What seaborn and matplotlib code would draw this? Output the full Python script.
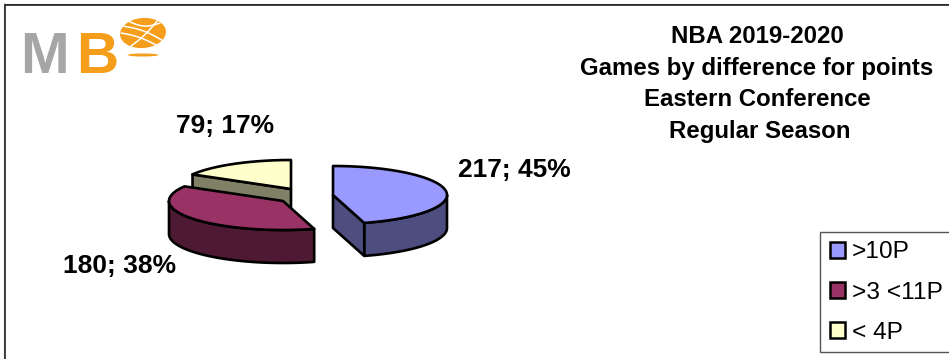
import matplotlib
matplotlib.use("Agg")
import matplotlib.pyplot as plt
import numpy as np
import seaborn as sns
from matplotlib.patches import Ellipse, Patch, Polygon, Rectangle

sns.set_theme(style="white")
plt.rcParams["font.family"] = ["Liberation Sans", "DejaVu Sans"]
plt.rcParams["text.color"] = "black"

# ---- chart data ----
categories = [">10P", ">3 <11P", "< 4P"]
games = [217, 180, 79]
pie_labels = ["217; 45%", "180; 38%", "79; 17%"]
title_lines = [
    "NBA 2019-2020",
    "Games by difference for points",
    "Eastern Conference",
    "Regular Season",
]
top_colors = ["#9999FF", "#993366", "#FFFFCC"]
side_colors = ["#4D4D80", "#4D1933", "#808066"]

# ---- layout in pixels, text positions are baselines ----
centers = [(333, 195), (283, 201), (291, 189)]
label_pos = [(514, 177), (120, 273), (225, 133)]
title_pos = [(757, 43), (757, 75), (757, 106), (760, 138)]
RX, RY, DEPTH = 114, 29, 33
LW = 1.9

fig = plt.figure(figsize=(9.49, 3.59), dpi=100)
ax = fig.add_axes([0, 0, 1, 1])
ax.set_xlim(0, 949)
ax.set_ylim(359, 0)
ax.axis("off")

# outer frame, only left and top are inside the picture
ax.plot([4.5, 4.5], [3, 359], color="#BBBBBB", lw=0.8, zorder=1)
ax.plot([4, 949], [3.5, 3.5], color="#888888", lw=0.8, zorder=1)
ax.plot([5.5, 5.5, 949], [359, 4.5, 4.5], color="#111111", lw=1.1, zorder=1)


def ell(cx, cy, theta):
    # theta is clockwise from 12 o'clock, squashed into the pie ellipse
    return np.column_stack([cx + RX * np.sin(theta), cy - RY * np.cos(theta)])


def draw_slice(cx, cy, start, end, top, side, z):
    th = np.linspace(start, end, 120)
    rim = ell(cx, cy, th)
    # outer wall, only the part that faces the viewer
    lo, hi = max(start, np.pi / 2), min(end, 3 * np.pi / 2)
    if lo < hi:
        w = ell(cx, cy, np.linspace(lo, hi, 120))
        wall = np.vstack([w, (w + [0, DEPTH])[::-1]])
        ax.add_patch(Polygon(wall, fc=side, ec="black", lw=LW, joinstyle="round", zorder=z))
    # radial cut faces that can be seen
    for a, show in [(start, np.sin(start) < -0.01), (end, np.sin(end) > 0.01)]:
        if not show:
            continue
        p = ell(cx, cy, np.array([a]))[0]
        face = [(cx, cy), p, p + [0, DEPTH], (cx, cy + DEPTH)]
        ax.add_patch(Polygon(face, fc=side, ec="black", lw=LW, joinstyle="round", zorder=z))
    ax.add_patch(Polygon(np.vstack([[cx, cy], rim]), fc=top, ec="black", lw=LW, joinstyle="round", zorder=z + 0.5))


# ---- pie slices, angles come from the values ----
edges = np.concatenate([[0], np.cumsum(games)]) / sum(games) * 2 * np.pi
for i, z in [(2, 2), (0, 2), (1, 3)]:
    draw_slice(*centers[i], edges[i], edges[i + 1], top_colors[i], side_colors[i], z)

for txt, (x, y) in zip(pie_labels, label_pos):
    ax.text(x, y, txt, ha="center", va="baseline", fontsize=19, fontweight="bold", color="black", zorder=5)

# ---- title ----
for txt, (x, y) in zip(title_lines, title_pos):
    ax.text(x, y, txt, ha="center", va="baseline", fontsize=17.3, fontweight="bold", color="black")

# ---- logo ----
ax.text(20, 73, "M", fontsize=42, fontweight="bold", color="#A6A6A6", ha="left", va="baseline")
ax.text(76, 73, "B", fontsize=42, fontweight="bold", color="#F59E1B", ha="left", va="baseline")
ax.add_patch(Ellipse((143, 33), 46, 30, fc="#F59E1B", ec="none", angle=-5))
t = np.linspace(0, 1, 30)
for x0, y0, x1, y1, b in [(122, 26, 165, 42, -3), (121, 33, 158, 46, -2), (128, 21, 160, 23, 4), (131, 46, 158, 20, 2)]:
    ax.plot(x0 + (x1 - x0) * t, y0 + (y1 - y0) * t + b * np.sin(np.pi * t), color="white", lw=1.1)
ax.add_patch(Ellipse((143, 55), 31, 3, fc="#F59E1B", ec="none"))

# ---- legend ----
ax.add_patch(Rectangle((820.5, 231.5), 140, 120, fc="white", ec="#555555", lw=1.0, zorder=6))
handles = [Patch(fc=c, ec="black", lw=1.8) for c in top_colors]
leg = ax.legend(
    handles,
    categories,
    loc="upper left",
    bbox_to_anchor=(820 / 949, 1 - 231 / 359),
    frameon=False,
    fontsize=17.6,
    handlelength=0.62,
    handleheight=0.62,
    handletextpad=0.25,
    labelspacing=0.75,
    borderpad=0.42,
    borderaxespad=0,
)
leg.set_zorder(7)

fig.savefig("out.png", dpi=100)
